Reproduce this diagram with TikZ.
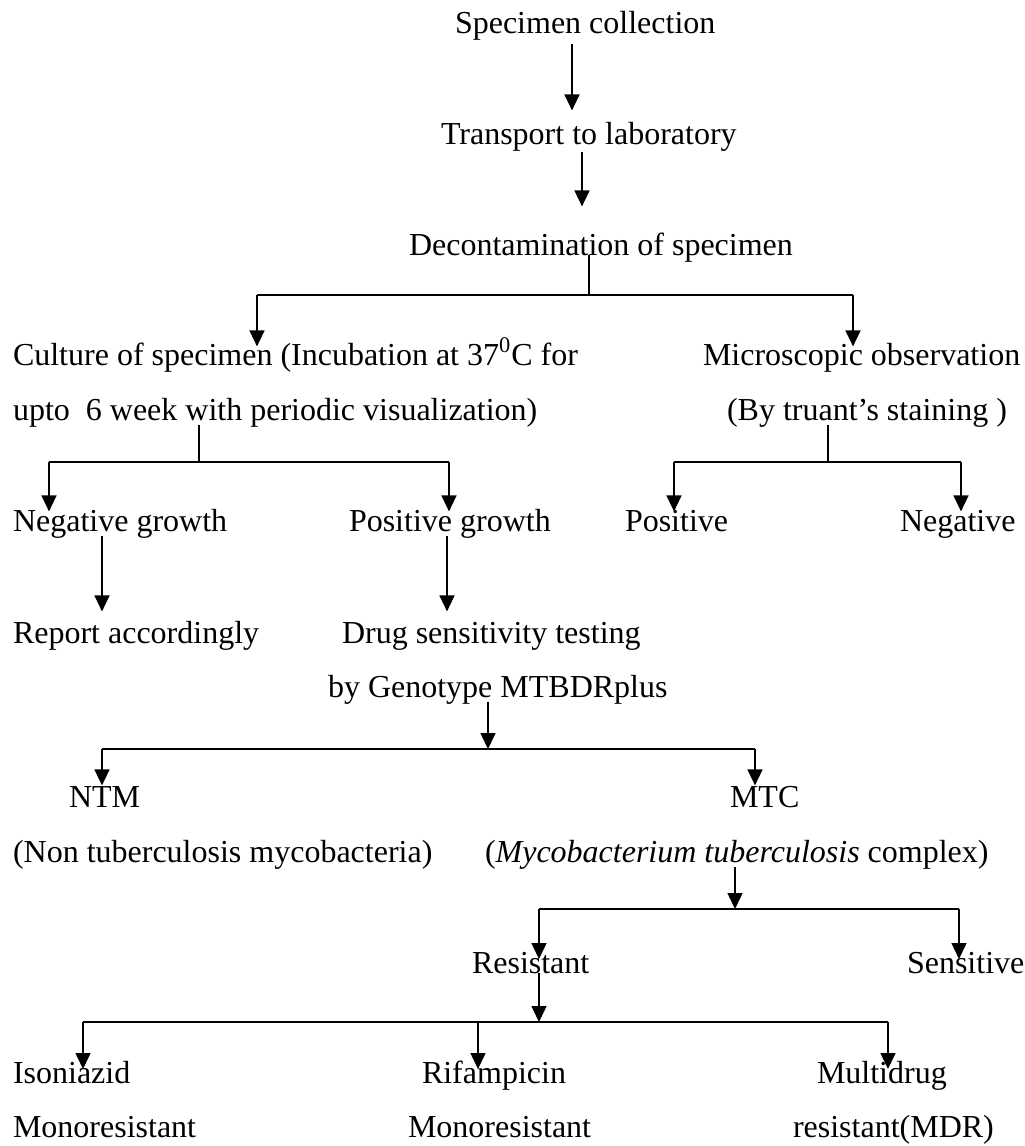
\documentclass[tikz,border=0pt]{standalone}
\usepackage{fontspec}
\setmainfont{Liberation Serif}
\usetikzlibrary{arrows.meta}
\begin{document}
\begin{tikzpicture}[x=0.5pt,y=-0.5pt,
  txt/.style={anchor=base west,inner sep=0pt,outer sep=0pt,text height=0.7em,text depth=0.25em,font=\fontsize{16}{19}\selectfont},
  stem/.style={line width=0.75pt},
  bar/.style={line width=1pt},
  arr/.style={line width=0.75pt,-{Triangle[length=8pt,width=7.5pt]}}]
\useasboundingbox (0,0) rectangle (1024,1146);
% nodes
\node[txt] (spec) at (455,33) {Specimen collection};
\node[txt] (trans) at (441,144) {Transport to laboratory};
\node[txt] (decon) at (409,255) {Decontamination of specimen};
\node[txt] (cult1) at (13,365) {Culture of specimen (Incubation at 37\textsuperscript{0}C for};
\node[txt] (cult2) at (13,420) {upto~~6 week with periodic visualization)};
\node[txt] (micro1) at (703,365) {Microscopic observation};
\node[txt] (micro2) at (727,420) {(By truant’s staining )};
\node[txt] (neggr) at (13,531) {Negative growth};
\node[txt] (posgr) at (349,531) {Positive growth};
\node[txt] (pos) at (625,531) {Positive};
\node[txt] (neg) at (900,531) {Negative};
\node[txt] (report) at (13,643) {Report accordingly};
\node[txt] (drug1) at (342,643) {Drug sensitivity testing};
\node[txt] (drug2) at (328,697) {by Genotype MTBDRplus};
\node[txt] (ntm) at (69,807) {NTM};
\node[txt] (mtc) at (730,807) {MTC};
\node[txt] (ntm2) at (13,862) {(Non tuberculosis mycobacteria)};
\node[txt] (mtc2) at (485,862) {(\textit{Mycobacterium tuberculosis} complex)};
\node[txt] (res) at (472,973) {Resistant};
\node[txt] (sens) at (907,973) {Sensitive};
\node[txt] (iso1) at (13,1083) {Isoniazid};
\node[txt] (rif1) at (422,1083) {Rifampicin};
\node[txt] (mdr1) at (817,1083) {Multidrug};
\node[txt] (iso2) at (13,1137) {Monoresistant};
\node[txt] (rif2) at (408,1137) {Monoresistant};
\node[txt] (mdr2) at (793,1137) {resistant(MDR)};
% junction coordinates
\coordinate (x1) at (572,0);
\coordinate (x2) at (582,0);
\coordinate (j1) at (589,295);
\coordinate (t1l) at (257,295);
\coordinate (t1r) at (853,295);
\coordinate (j2) at (199,462);
\coordinate (t2l) at (49,462);
\coordinate (t2r) at (449,462);
\coordinate (j3) at (828,462);
\coordinate (t3l) at (674,462);
\coordinate (t3r) at (961,462);
\coordinate (x4) at (102,0);
\coordinate (x5) at (447,0);
\coordinate (j5) at (488,749);
\coordinate (t5l) at (102,749);
\coordinate (t5r) at (755,749);
\coordinate (j6) at (735,909);
\coordinate (t6l) at (539,909);
\coordinate (t6r) at (959,909);
\coordinate (j7) at (539,1022);
\coordinate (t7l) at (83,1022);
\coordinate (t7m) at (478,1022);
\coordinate (t7r) at (888,1022);
% connectors
\draw[arr,shorten <=3pt,shorten >=9.8pt] (spec.south -| x1) -- (trans.north -| x1);
\draw[arr,shorten <=1.5pt,shorten >=17.3pt] (trans.south -| x2) -- (decon.north -| x2);
% tree 1
\draw[stem] (decon.base -| j1) -- (j1);
\draw[bar] (t1l) -- (t1r);
\draw[arr,shorten >=2.3pt] (t1l) -- (cult1.north -| t1l);
\draw[arr,shorten >=2.3pt] (t1r) -- (micro1.north -| t1r);
% tree 2
\draw[stem] (cult2.south -| j2) -- (j2);
\draw[bar] (t2l) -- (t2r);
\draw[arr,shorten >=2.8pt] (t2l) -- (neggr.north -| t2l);
\draw[arr,shorten >=2.8pt] (t2r) -- (posgr.north -| t2r);
% tree 3
\draw[stem] (micro2.south -| j3) -- (j3);
\draw[bar] (t3l) -- (t3r);
\draw[arr,shorten >=2.8pt] (t3l) -- (pos.north -| t3l);
\draw[arr,shorten >=2.8pt] (t3r) -- (neg.north -| t3r);
% growth arrows
\draw[arr,shorten >=8.8pt] (neggr.south -| x4) -- (report.north -| x4);
\draw[arr,shorten >=8.8pt] (posgr.south -| x5) -- (drug1.north -| x5);
% tree 5
\draw[arr] (drug2.south -| j5) -- (j5);
\draw[bar] (t5l) -- (t5r);
\draw[arr,shorten >=3.8pt] (t5l) -- (ntm.north -| t5l);
\draw[arr,shorten >=3.8pt] (t5r) -- (mtc.north -| t5r);
% tree 6
\draw[arr] (mtc2.south -| j6) -- (j6);
\draw[bar] (t6l) -- (t6r);
\draw[arr] (t6l) -- (res.north -| t6l);
\draw[arr] (t6r) -- (sens.north -| t6r);
% tree 7
\draw[arr] (res.base -| j7) -- (j7);
\draw[bar] (t7l) -- (t7r);
\draw[arr] (t7l) -- (iso1.north -| t7l);
\draw[arr] (t7m) -- (rif1.north -| t7m);
\draw[arr] (t7r) -- (mdr1.north -| t7r);
\end{tikzpicture}
\end{document}
